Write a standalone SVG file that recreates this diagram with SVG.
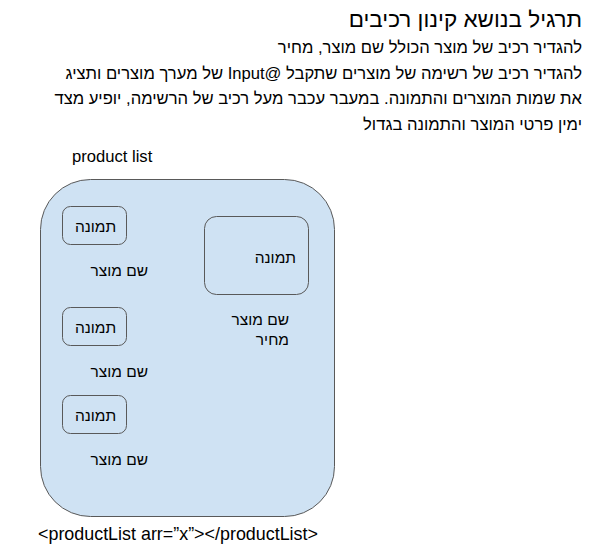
<svg xmlns="http://www.w3.org/2000/svg" width="597" height="560" viewBox="0 0 597 560">
<style>
text{font-family:"Liberation Sans",Arial,sans-serif;fill:#000}
.box{fill:#cfe2f3;stroke:#595959;stroke-width:1}
.lbl{font-size:15.5px}
.para{font-size:16.6px}
</style>
<rect width="597" height="560" fill="#fff"/>
<g id="header">
<text x="582" y="27" font-size="22.5" direction="rtl" text-anchor="start">תרגיל בנושא קינון רכיבים</text>
<text class="para" x="582" y="53" direction="rtl" text-anchor="start">להגדיר רכיב של מוצר הכולל שם מוצר, מחיר</text>
<text class="para" x="582" y="78.5" direction="rtl" text-anchor="start">להגדיר רכיב של רשימה של מוצרים שתקבל @Input של מערך מוצרים ותציג</text>
<text class="para" x="582" y="104" direction="rtl" text-anchor="start">את שמות המוצרים והתמונה. במעבר עכבר מעל רכיב של הרשימה, יופיע מצד</text>
<text class="para" x="582" y="129.5" direction="rtl" text-anchor="start">ימין פרטי המוצר והתמונה בגדול</text>
<text x="72" y="162" font-size="16.6">product list</text>
</g>
<g id="productList">
<rect class="box" x="40.5" y="179.5" width="294" height="337" rx="50" ry="50"/>
</g>
<g id="item1">
<rect class="box" x="62.5" y="206.5" width="64" height="38" rx="8" ry="8"/>
<text class="lbl" x="95.5" y="231.5" text-anchor="middle">תמונה</text>
<text class="lbl" x="148" y="275.5" text-anchor="end">שם מוצר</text>
</g>
<g id="item2">
<rect class="box" x="62.5" y="307.5" width="64" height="38" rx="8" ry="8"/>
<text class="lbl" x="95.5" y="332.5" text-anchor="middle">תמונה</text>
<text class="lbl" x="148" y="377" text-anchor="end">שם מוצר</text>
</g>
<g id="item3">
<rect class="box" x="62.5" y="395.5" width="64" height="38" rx="8" ry="8"/>
<text class="lbl" x="95.5" y="420.5" text-anchor="middle">תמונה</text>
<text class="lbl" x="148" y="465" text-anchor="end">שם מוצר</text>
</g>
<g id="details">
<rect class="box" x="204.5" y="216.5" width="104" height="78" rx="12" ry="12"/>
<text class="lbl" x="296" y="262.5" text-anchor="end">תמונה</text>
<text class="lbl" x="289" y="325" text-anchor="end">שם מוצר</text>
<text class="lbl" x="289" y="345" text-anchor="end">מחיר</text>
</g>
<g id="connectors"/>
<text x="38" y="540" font-size="17.9">&lt;productList arr=”x”&gt;&lt;/productList&gt;</text>
</svg>
